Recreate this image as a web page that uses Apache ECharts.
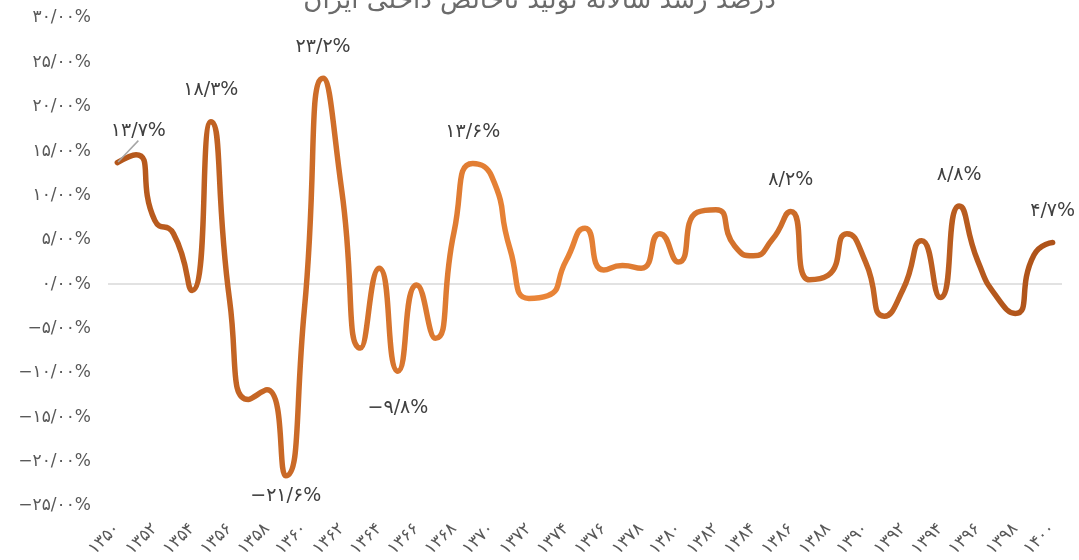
<!DOCTYPE html>
<html>
<head>
<meta charset="utf-8">
<script src="https://cdn.jsdelivr.net/npm/echarts@6/dist/echarts.min.js"></script>
<style>
  html, body { margin: 0; padding: 0; background: #fff; }
</style>
</head>
<body>
<div id="chart" style="width:1079px;height:560px;"></div>
<script>
// years (solar hijri) and annual GDP growth, percent
var years = [1350,1351,1352,1353,1354,1355,1356,1357,1358,1359,
             1360,1361,1362,1363,1364,1365,1366,1367,1368,1369,
             1370,1371,1372,1373,1374,1375,1376,1377,1378,1379,
             1380,1381,1382,1383,1384,1385,1386,1387,1388,1389,
             1390,1391,1392,1393,1394,1395,1396,1397,1398,1399,1400];
var growth = [13.7,14.6,7.2,5.7,-0.7,18.3,-1.8,-13.0,-11.9,-21.6,
              -2.8,23.2,10.5,-7.2,1.8,-9.8,-0.1,-6.1,5.9,13.6,
              12.2,3.9,-1.6,-1.3,2.7,6.3,1.6,2.1,1.8,5.7,
              2.5,8.1,8.4,4.3,3.2,5.0,8.2,0.5,1.0,5.7,
              2.5,-3.6,-0.6,4.9,-1.5,8.8,2.6,-1.4,-3.3,3.3,4.7];
// years that carry a value label
var labeledYears = [1350,1355,1359,1361,1365,1369,1386,1395,1400];
var yTicks = [-25,-20,-15,-10,-5,0,5,10,15,20,25,30];

var fa = '۰۱۲۳۴۵۶۷۸۹';
function toFa(s) {
    return String(s).replace(/[0-9]/g, function(d){ return fa[+d]; }).replace('.', '/');
}
function pct(v, digits) {
    var s = toFa(Math.abs(v).toFixed(digits)) + '%';
    return v < 0 ? '−' + s : s;
}

var seriesData = growth.map(function(v, i) {
    var item = { value: v };
    if (labeledYears.indexOf(years[i]) >= 0) {
        var dist = v < 0 ? 26 : 21;
        if (years[i] === 1359) dist = 10;
        item.label = {
            show: true,
            position: v < 0 ? 'bottom' : 'top',
            distance: dist
        };
        // first label sits a bit to the right, with a leader line
        if (i === 0) item.labelLine = { show: true };
    }
    return item;
});

var gridColors = yTicks.map(function(t){ return t === 0 ? '#d9d9d9' : 'rgba(0,0,0,0)'; });

var myChart = echarts.init(document.getElementById('chart'));
myChart.setOption({
    backgroundColor: '#ffffff',
    animation: false,
    title: {
        text: 'درصد رشد سالانه تولید ناخالص داخلی ایران',
        left: 'center',
        top: -12,
        padding: 0,
        textStyle: {
            fontFamily: 'DejaVu Sans',
            fontSize: 26,
            fontWeight: 'normal',
            color: '#6b6b6b'
        }
    },
    grid: { left: 108, right: 17, top: 18, bottom: 52 },
    xAxis: {
        type: 'category',
        data: years,
        boundaryGap: true,
        axisLine: { show: false },
        axisTick: { show: false },
        axisLabel: {
            interval: 1,
            rotate: 45,
            margin: 20,
            fontFamily: 'DejaVu Sans',
            fontSize: 17,
            color: '#595959',
            formatter: function(v){ return toFa(v); }
        }
    },
    yAxis: {
        type: 'value',
        min: -25,
        max: 30,
        interval: 5,
        axisLine: { show: false },
        axisTick: { show: false },
        splitLine: { show: true, lineStyle: { color: gridColors, width: 1.5 } },
        axisLabel: {
            margin: 17,
            fontFamily: 'DejaVu Sans',
            fontSize: 17,
            color: '#595959',
            formatter: function(v){ return pct(v, 2); }
        }
    },
    series: [{
        type: 'line',
        data: seriesData,
        smooth: 0.6,
        symbol: 'circle',
        symbolSize: 2,
        showAllSymbol: true,
        itemStyle: { color: 'rgba(0,0,0,0)' },
        lineStyle: {
            width: 5.5,
            cap: 'round',
            color: new echarts.graphic.LinearGradient(0, 0, 1, 0, [
                { offset: 0, color: '#b3561b' },
                { offset: 0.45, color: '#ea8538' },
                { offset: 1, color: '#ad5219' }
            ])
        },
        label: {
            show: false,
            fontFamily: 'DejaVu Sans',
            fontSize: 19,
            color: '#404040',
            formatter: function(p){ return pct(p.value, 1); }
        },
        labelLine: { show: false, lineStyle: { color: '#a6a6a6', width: 1.5 } },
        labelLayout: function(p) {
            return p.dataIndex === 0 ? { dx: 21, dy: 0 } : {};
        }
    }]
});
</script>
</body>
</html>
